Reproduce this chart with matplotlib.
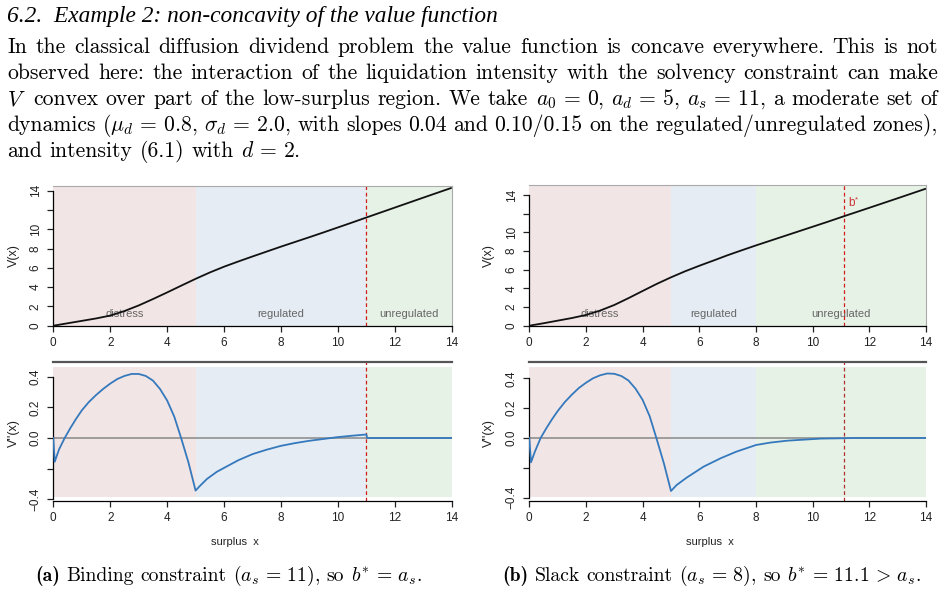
import re
import matplotlib
matplotlib.use("Agg")
import matplotlib.pyplot as plt
from matplotlib.font_manager import FontProperties

plt.rcParams['mathtext.fontset'] = 'cm'

# ---------------- data ----------------
x_V_a = [0, 0.5, 1, 1.5, 2, 2.5, 3, 3.5, 4, 4.5, 5, 5.5, 6, 6.5, 7, 7.5, 8, 8.5, 9, 9.5, 10, 10.5, 11, 12, 13, 14]
V_a = [0.00, 0.25, 0.50, 0.75, 1.05, 1.52, 2.10, 2.76, 3.45, 4.16, 4.86, 5.52, 6.12, 6.66, 7.18, 7.69, 8.20,
       8.69, 9.18, 9.68, 10.19, 10.70, 11.22, 12.25, 13.28, 14.30]

x_V_b = [0, 0.5, 1, 1.5, 2, 2.5, 3, 3.5, 4, 4.5, 5, 5.5, 6, 6.5, 7, 7.5, 8, 8.5, 9, 9.5, 10, 10.5, 11.1, 12, 13, 14]
V_b = [0.00, 0.26, 0.54, 0.82, 1.15, 1.62, 2.22, 2.95, 3.72, 4.48, 5.18, 5.83, 6.42, 6.98, 7.55, 8.08, 8.60,
       9.10, 9.60, 10.10, 10.60, 11.10, 11.72, 12.63, 13.65, 14.68]

x_D_a = [0, 0.05, 0.2, 0.4, 0.6, 0.8, 1.0, 1.25, 1.5, 1.75, 2.0, 2.25, 2.5, 2.75, 3.0, 3.25, 3.5, 3.75, 4.0,
         4.25, 4.5, 4.75, 5.0, 5.15, 5.4, 5.75, 6.0, 6.5, 7.0, 7.5, 8.0, 8.5, 9.0, 9.5, 10.0, 10.5, 11.0, 11.03, 14]
D_a = [0.0, -0.155, -0.075, 0.0, 0.065, 0.125, 0.18, 0.235, 0.28, 0.32, 0.355, 0.385, 0.405, 0.418, 0.418,
       0.405, 0.375, 0.32, 0.245, 0.14, -0.005, -0.16, -0.343, -0.313, -0.267, -0.22, -0.195, -0.145, -0.105,
       -0.076, -0.051, -0.033, -0.018, -0.006, 0.006, 0.015, 0.023, 0.0, 0.0]

x_D_b = [0, 0.06, 0.2, 0.4, 0.6, 0.8, 1.0, 1.25, 1.5, 1.75, 2.0, 2.25, 2.5, 2.75, 3.0, 3.25, 3.5, 3.75, 4.0,
         4.25, 4.5, 4.75, 5.0, 5.2, 5.55, 6.15, 6.75, 7.3, 8.0, 8.5, 9.1, 9.7, 10.3, 11.0, 11.5, 14]
D_b = [0.0, -0.163, -0.09, 0.0, 0.065, 0.125, 0.18, 0.24, 0.29, 0.335, 0.37, 0.40, 0.42, 0.432, 0.43,
       0.415, 0.385, 0.33, 0.255, 0.145, -0.01, -0.17, -0.355, -0.315, -0.266, -0.192, -0.136, -0.092,
       -0.047, -0.031, -0.018, -0.011, -0.004, -0.002, 0.0, 0.0]

zones_a = [(0, 5, "distress"), (5, 11, "regulated"), (11, 14, "unregulated")]
zones_b = [(0, 5, "distress"), (5, 8, "regulated"), (8, 14, "unregulated")]
bstar_a = 11.0
bstar_b = 11.1

x_ticks = [0, 2, 4, 6, 8, 10, 12, 14]
x_ticklabels = ["0", "2", "4", "6", "8", "10", "12", "14"]
v_ticks = [0, 2, 4, 6, 8, 10, 12, 14]
v_ticklabels = ["0", "2", "4", "6", "8", "10", "", "14"]
d_ticks = [-0.4, -0.2, 0.0, 0.2, 0.4]
d_ticklabels = ["\u22120.4", "", "0.0", "0.2", "0.4"]

title = "6.2.  Example 2: non-concavity of the value function"
para = [
    "In the classical diffusion dividend problem the value function is concave everywhere. This is not",
    "observed here: the interaction of the liquidation intensity with the solvency constraint can make",
    r"$V$ convex over part of the low-surplus region. We take $a_0 \,=\, 0$, $a_d \,=\, 5$, $a_s \,=\, 11$, a moderate set of",
    r"dynamics ($\mu_d \,=\, 0.8$, $\sigma_d \,=\, 2.0$, with slopes 0.04 and 0.10/0.15 on the regulated/unregulated zones),",
    r"and intensity (6.1) with $d \,=\, 2$.",
]
cap_a = ["(a)", "Binding", "constraint", r"$(a_s \,=\, 11)$,", "so", r"$b^{*} \,=\, a_s$."]
cap_b = ["(b)", "Slack", "constraint", r"$(a_s \,=\, 8)$,", "so", r"$b^{*} \,=\, 11.1 \,>\, a_s$."]

# ---------------- style ----------------
W, H = 946, 597
zone_colors = {"distress": "#F2E5E5", "regulated": "#E5ECF4", "unregulated": "#E7F2E6"}
sans = "Liberation Sans"

fig = plt.figure(figsize=(W / 100, H / 100), dpi=100)
renderer = fig.canvas.get_renderer()


def fx(p):
    return p / W


def fy(p):
    return 1 - p / H


def rect(x0, y0, x1, y1):
    return [fx(x0), fy(y1), (x1 - x0) / W, (y1 - y0) / H]


def tw(t):
    return t.get_window_extent(renderer).width


def tokens(s):
    return re.findall(r'(?:\$[^$]*\$|[^\s$])+', s)


def place_words(words, yp, x0, x1, props, justify, space):
    ts = [fig.text(0, fy(yp), w, fontproperties=p, va='baseline', ha='left', color='black')
          for w, p in zip(words, props)]
    ws = [tw(t) for t in ts]
    if justify and len(ws) > 1:
        gap = (x1 - x0 - sum(ws)) / (len(ws) - 1)
    else:
        gap = space
    x = x0
    for t, w in zip(ts, ws):
        t.set_x(fx(x))
        x += w + gap
    return ts


body_size = 15.6
cap_size = 14.2
rm = FontProperties(family="cmr10", size=body_size)
rm_c = FontProperties(family="cmr10", size=cap_size)
bf_c = FontProperties(family="cmb10", size=cap_size)

# title (italic), fitted to width
tt = fig.text(fx(7.3), fy(21.7), title,
              fontproperties=FontProperties(family="Liberation Serif", style="italic", size=14),
              va='baseline', ha='left')
tt.set_fontsize(14 * (497 - 7.3) / tw(tt))

baselines = [52.7, 79.3, 105.0, 130.7, 156.7]
for i, (line, yb) in enumerate(zip(para, baselines)):
    ws = tokens(line)
    place_words(ws, yb, 7.3, 938, [rm] * len(ws), justify=(i < len(para) - 1),
                space=0.333 * body_size * 100 / 72)

cap_space = 0.333 * cap_size * 100 / 72
place_words(cap_a, 581.3, 35, 432, [bf_c] + [rm_c] * (len(cap_a) - 1), justify=False, space=cap_space)
place_words(cap_b, 581.3, 502, 920, [bf_c] + [rm_c] * (len(cap_b) - 1), justify=False, space=cap_space)


def style_axis(ax, yt, ytl, ybounds, top_color, top_lw, right_vis):
    ax.set_xlim(0, 14)
    for s in ["left", "bottom"]:
        ax.spines[s].set_color("black")
        ax.spines[s].set_linewidth(0.9)
    ax.spines["left"].set_bounds(*ybounds)
    ax.spines["bottom"].set_bounds(0, 14)
    ax.spines["top"].set_color(top_color)
    ax.spines["top"].set_linewidth(top_lw)
    ax.spines["right"].set_visible(right_vis)
    ax.spines["right"].set_color("#aaaaaa")
    ax.spines["right"].set_linewidth(0.8)
    ax.set_xticks(x_ticks, x_ticklabels)
    ax.set_yticks(yt, ytl)
    ax.tick_params(axis="both", direction="out", length=4.3, width=0.9, labelsize=8.5, colors="#222222", pad=4)
    for lbl in ax.get_yticklabels():
        lbl.set_rotation(90)
        lbl.set_va("center")
        lbl.set_family(sans)
    for lbl in ax.get_xticklabels():
        lbl.set_family(sans)
    ax.patch.set_visible(False)


def top_panel(box, xv, v, zones, ytop, bstar, lab_y, show_b):
    ax = fig.add_axes(rect(*box))
    ax.set_ylim(0, ytop)
    for a, b, name in zones:
        ax.axvspan(a, b, color=zone_colors[name], lw=0, zorder=0)
        ax.text((a + b) / 2, lab_y, name, ha="center", va="center", fontsize=8, color="#666666",
                family=sans, zorder=1)
    ax.axvline(bstar, color="#d01c1c", lw=0.9, ls=(0, (3, 2.2)), zorder=2)
    ax.plot(xv, v, color="#111111", lw=1.3, zorder=3, solid_capstyle="butt")
    if show_b:
        ax.text(bstar + 0.15, 12.85, "b", color="#cc3333", fontsize=8.5, ha="left",
                va="baseline", family=sans, zorder=4)
        ax.annotate("*", xy=(bstar + 0.15, 12.85), xytext=(5.2, 3.2), textcoords="offset points",
                    color="#cc3333", fontsize=5.5, ha="left", va="baseline", family=sans, zorder=4)
    style_axis(ax, v_ticks, v_ticklabels, (0, 14), "#aaaaaa", 0.8, True)
    return ax


def bot_panel(box, xd, d, zones, ylim, shade, bstar, vcol):
    ax = fig.add_axes(rect(*box))
    ax.set_ylim(*ylim)
    for a, b, name in zones:
        ax.fill_between([a, b], shade[0], shade[1], color=zone_colors[name], lw=0, zorder=0)
    ax.axhline(0, color="#888888", lw=1.1, zorder=1)
    ax.axvline(bstar, color=vcol, lw=0.9, ls=(0, (3, 2.2)), zorder=2)
    ax.plot(xd, d, color="#3579bd", lw=1.3, zorder=3)
    style_axis(ax, d_ticks, d_ticklabels, (-0.4, 0.4), "#555555", 1.6, False)
    return ax


top_panel((53.3, 185.7, 451.7, 325.7), x_V_a, V_a, zones_a, 14.52, bstar_a, 1.2, False)
top_panel((529.3, 185.0, 926.0, 325.7), x_V_b, V_b, zones_b, 15.07, bstar_b, 1.25, True)
bot_panel((53.3, 361.7, 451.7, 500.7), x_D_a, D_a, zones_a, (-0.409, 0.498), (-0.383, 0.465), bstar_a, "#d01c1c")
bot_panel((529.3, 361.7, 926.0, 500.7), x_D_b, D_b, zones_b, (-0.42, 0.511), (-0.393, 0.478), bstar_b, "#b03030")

for xc in (14, 489):
    fig.text(fx(xc), fy(255.7), "V(x)", rotation=90, ha="center", va="center", fontsize=9, family=sans,
             color="#222222")
    fig.text(fx(xc), fy(433), "V''(x)", rotation=90, ha="center", va="center", fontsize=9, family=sans,
             color="#222222")
for xc in (234.5, 710):
    fig.text(fx(xc), fy(541.7), "surplus  x", ha="center", va="center", fontsize=8, family=sans,
             color="#222222")

fig.savefig("out.png", dpi=100)
